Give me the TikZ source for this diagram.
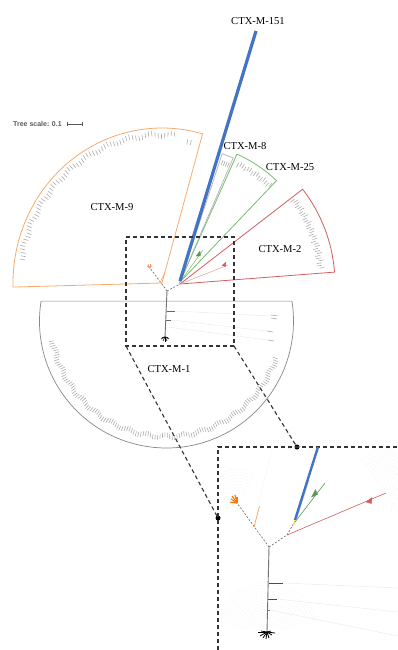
\documentclass[tikz,border=0pt]{standalone}
\usepackage{fontspec}
\setmainfont{Liberation Serif}
\newfontfamily\scalesans{Liberation Sans}
\usetikzlibrary{arrows.meta}
\definecolor{orgC}{RGB}{247,170,108}
\definecolor{redC}{RGB}{212,92,92}
\definecolor{grnC}{RGB}{118,188,112}
\definecolor{gryC}{RGB}{135,135,135}
\definecolor{bluC}{RGB}{66,116,196}
\definecolor{yelC}{RGB}{240,220,40}
\tikzset{
  lab/.style={font=\fontsize{10.6}{12}\selectfont, inner sep=0pt},
  tk/.style={gray!65, line width=0.6pt},
  zoomdash/.style={black!80, line width=1.1pt, dash pattern=on 4pt off 3pt},
  treedash/.style={black!60, line width=0.6pt, dash pattern=on 2pt off 1.6pt},
  stem/.style={black!55, line width=0.9pt},
  faint/.style={gray!18, line width=0.4pt},
  dotc/.style={circle, fill=black, inner sep=0pt, minimum size=5pt}
}
\begin{document}
\begin{tikzpicture}[x=1pt,y=-1pt]
\useasboundingbox (0,0) rectangle (398,650);

% ---------- tree scale ----------
\node[anchor=west, inner sep=0pt, font=\scalesans\bfseries\fontsize{7}{8}\selectfont, text=black!65] (ts) at (13,124) {Tree scale: 0.1};
\coordinate (sb1) at (67,124);
\coordinate (sb2) at (82,124);
\draw[black!65, line width=0.6pt] (sb1) -- (sb2);
\draw[black!65, line width=0.6pt] (sb1) ++(0,-1.6) -- ++(0,3.2);
\draw[black!65, line width=0.6pt] (sb2) ++(0,-1.6) -- ++(0,3.2);

% ---------- centres ----------
\coordinate (c9) at (162,283);
\coordinate (cR) at (180,284);
\coordinate (cG) at (180,282);
\coordinate (c1) at (166.5,321);

% ---------- CTX-M-1 sector ----------
\draw[gryC, line width=0.7pt] (c1) ++(-171:127) arc[start angle=-171, end angle=-369, radius=127] -- cycle;
\begin{scope}[shift={(c1)}]
  \foreach \a [count=\i] in {190,191.2,...,342} {
    \pgfmathsetmacro\ro{118+1.5*sin(47*\i)}
    \pgfmathsetmacro\ri{\ro-5}
    \draw[tk] (-\a:\ri) -- (-\a:\ro);
  }
\end{scope}
\draw[tk] (271,315) -- (278,316);
\draw[tk] (271,318) -- (277,319);
\draw[tk] (267,331) -- (273,332);
\draw[tk] (268,340) -- (274,341);
\draw[faint] (175,311) -- (271,316);
\draw[faint] (171,320) -- (267,331);
\draw[faint] (167,327) -- (268,340);

% ---------- CTX-M-9 sector ----------
\draw[orgC, line width=0.8pt] (c9) -- ++(-181.5:149 and 155) arc[start angle=-181.5, end angle=-74.2, x radius=149, y radius=155] -- cycle;
\begin{scope}[shift={(c9)}]
  \foreach \a [count=\i] in {85,86.3,...,172} {
    \pgfmathsetmacro\ro{145+1.5*sin(53*\i)}
    \pgfmathsetmacro\ri{\ro-5}
    \draw[tk] ({\ri*cos(\a)},{-1.04*\ri*sin(\a)}) -- ({\ro*cos(\a)},{-1.04*\ro*sin(\a)});
  }
  \draw[tk] (-78:136 and 141) -- (-78:141 and 146);
  \draw[tk] (-79.5:136 and 141) -- (-79.5:141 and 146);
\end{scope}

% ---------- CTX-M-2 sector ----------
\draw[redC, line width=0.8pt] (cR) -- ++(-4.4:155) arc[start angle=-4.4, end angle=-37.7, radius=155] -- cycle;
\begin{scope}[shift={(cR)}]
  \foreach \a [count=\i] in {6.5,7.5,...,36.5} {
    \pgfmathsetmacro\ro{144+1.5*sin(113*\i)}
    \pgfmathsetmacro\ri{\ro-5}
    \draw[tk] (-\a:\ri) -- (-\a:\ro);
  }
\end{scope}
\draw[redC!60, line width=0.5pt] (cR) -- (228,265);
\draw[redC, line width=0.3pt, fill=redC] (222,265.5) -- (226,262) -- (225.5,266.5) -- cycle;

% ---------- CTX-M-25 sector ----------
\draw[grnC, line width=0.8pt] (cG) -- ++(-46.4:140) arc[start angle=-46.4, end angle=-66, radius=140] -- cycle;
\begin{scope}[shift={(cG)}]
  \foreach \a [count=\i] in {47,48.2,...,64.5} {
    \pgfmathsetmacro\ro{134+1.2*sin(113*\i)}
    \pgfmathsetmacro\ri{\ro-5}
    \draw[tk] (-\a:\ri) -- (-\a:\ro);
  }
\end{scope}
\draw[grnC, line width=0.5pt] (cG) -- (203,250);
\draw[grnC!80!black, line width=0.3pt, fill=grnC!80!black] (196,256) -- (200,251) -- (200.5,256) -- cycle;

% ---------- CTX-M-8 sector ----------
\draw[gray!60, line width=0.7pt] (cG) -- ++(-66.8:135) arc[start angle=-66.8, end angle=-71.8, radius=135] -- cycle;
\begin{scope}[shift={(cG)}]
  \foreach \a in {67.6,68.6,...,71.2} {
    \draw[tk] (-\a:124) -- (-\a:129);
  }
\end{scope}

% ---------- CTX-M-151 ----------
\coordinate (b0) at (180,281);
\coordinate (b1) at (256,31);
\draw[bluC, line width=3.2pt] (b0) -- (b1);

% ---------- main tree ----------
\coordinate (J) at (167,291);
\coordinate (Jo) at (150,268);
\coordinate (Jb) at (165,337);
\draw[treedash] (J) -- (Jo);
\draw[treedash] (J) -- (cR);
\draw[stem] (J) -- (Jb);
\draw[black!60, line width=0.6pt] (166.6,311) -- (175,311);
\draw[black!60, line width=0.6pt] (166.2,320) -- (171,320);
\foreach \dx/\dy in {-4/2,-2/4,0/4.5,2/4,4/2,-3/0.5,3/0.5} \draw[black, line width=0.6pt] (Jb) -- ++(\dx,\dy);
\foreach \dx/\dy in {-3/-2,-2/-3.5,0/-4,1.5/-2.5} \draw[orgC!90!red, line width=0.9pt] (Jo) -- ++(\dx,\dy);
\draw[orgC, line width=0.6pt] (160,283) -- (165,272);

% ---------- labels ----------
\node[lab] (l151) at (258,21) {CTX-M-151};
\node[lab] (l8) at (245,146) {CTX-M-8};
\node[lab] (l25) at (290,167) {CTX-M-25};
\node[lab] (l2) at (280,249) {CTX-M-2};
\node[lab] (l9) at (112,207) {CTX-M-9};
\node[lab] (l1) at (169,369) {CTX-M-1};

% ---------- zoom box ----------
\coordinate (zTL) at (126,237);
\coordinate (zTR) at (234,237);
\coordinate (zBR) at (234,346);
\coordinate (zBL) at (126,346);
\draw[zoomdash] (zTL) -- (zTR) -- (zBR) -- (zBL) -- cycle;

% ---------- inset ----------
\coordinate (iTL) at (218,447);
\coordinate (iTR) at (398,447);
\coordinate (iBL) at (218,650);
\node[dotc] (d1) at (297,447) {};
\node[dotc] (d2) at (218,518) {};
\draw[zoomdash] (zBR) -- (d1);
\draw[zoomdash] (zBL) -- (d2);

% faint background in inset
\begin{scope}
\clip (iTL) rectangle (398,650);
\foreach \r in {6,9,...,36} \draw[gray!14, line width=0.3pt, dash pattern=on 1pt off 1pt] (238,505) ++(-200:\r) arc[start angle=-200, end angle=-60, radius=\r];
\foreach \r in {8,11,...,50} \draw[gray!14, line width=0.3pt, dash pattern=on 1pt off 1pt] (267,632) ++(-170:\r) arc[start angle=-170, end angle=-10, radius=\r];
\foreach \r in {100,103,...,130} \draw[gray!14, line width=0.3pt, dash pattern=on 1pt off 1pt] (290,530) ++(-10:\r) arc[start angle=-10, end angle=-45, radius=\r];
\draw[gray!12, line width=0.6pt, dash pattern=on 1pt off 1pt] (258,505) -- (272,450);
\end{scope}
\draw[faint] (283,583) -- (398,588);
\draw[faint] (277,599) -- (398,612);
\draw[faint] (270,610) -- (398,636);

\draw[zoomdash] (iBL) -- (iTL) -- (iTR);

% inset tree
\coordinate (I) at (269,547);
\coordinate (Io) at (237,503);
\coordinate (Ir) at (287,535);
\coordinate (Iy) at (294,523);
\coordinate (Ib) at (318,447);
\coordinate (Ig) at (325,483);
\coordinate (Ire) at (386,493);
\coordinate (Ibot) at (267,632);
\draw[treedash] (I) -- (Io);
\draw[treedash] (I) -- (Ir) -- (Iy);
\draw[redC, line width=0.6pt] (Ir) -- (Ire);
\draw[redC, fill=redC, line width=0.3pt] (366,502) -- (372,497.5) -- (371.5,503.5) -- cycle;
\draw[gray!35, line width=0.7pt] (297,518) -- (309,480);
\draw[bluC, line width=2.4pt] (295,520) -- (Ib);
\draw[yelC, line width=1pt] (293.5,525) -- (295,520.5);
\draw[grnC!80!black, line width=0.6pt] (295,522) -- (Ig);
\draw[grnC!80!black, fill=grnC!80!black, line width=0.3pt] (311.5,497) -- (315.5,489.5) -- (317.5,494.5) -- cycle;
\draw[orgC, line width=0.8pt] (254,527) -- (259.5,506);
\foreach \dx/\dy in {-6/-4,-5/-7,-2/-8,0/-6,-7/-1} \draw[orange!90!red, line width=1.1pt] (Io) -- ++(\dx,\dy);
\draw[stem] (I) -- (Ibot);
\draw[black!70, line width=0.8pt] (268.8,583) -- (283,583);
\draw[black!70, line width=0.8pt] (268.2,599) -- (277,599);
\draw[black!50, line width=0.5pt] (268,610) -- (270,610);
\foreach \dx/\dy in {-9/0,-7/4,-4/6,-1/7,2/6,5/3,8/1,-6/-1,4/-1} \draw[black, line width=0.8pt] (Ibot) -- ++(\dx,\dy);
\end{tikzpicture}
\end{document}
